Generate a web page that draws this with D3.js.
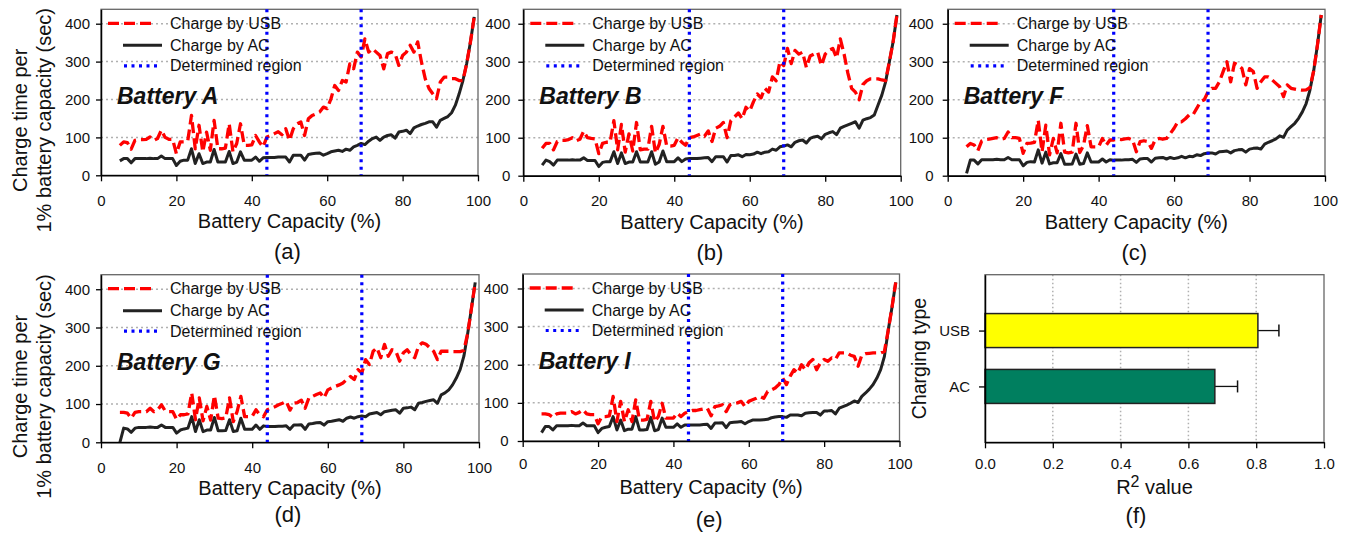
<!DOCTYPE html>
<html lang="en">
<head>
<meta charset="UTF-8">
<title>Charge time per 1% battery capacity</title>
<script src="https://d3js.org/d3.v7.min.js"></script>
<style>
  body { margin: 0; background: #fff; }
</style>
</head>
<body>
<svg id="chart" width="1359" height="533"></svg>
<script>
// battery capacity (%) at which each sample was taken
const capacity = [
  5, 6, 7, 8, 9, 10, 11, 12, 13, 14, 15, 16, 17, 18, 19,
  20, 21, 22, 23, 24, 25, 26, 27, 28, 29, 30, 31, 32, 33, 34,
  35, 36, 37, 38, 39, 40, 41, 42, 43, 44, 45, 46, 47, 48, 49,
  50, 51, 52, 53, 54, 55, 56, 57, 58, 59, 60, 61, 62, 63, 64,
  65, 66, 67, 68, 69, 70, 71, 72, 73, 74, 75, 76, 77, 78, 79,
  80, 81, 82, 83, 84, 85, 86, 87, 88, 89, 90, 91, 92, 93, 94,
  95, 96, 97, 98, 99
];

// charge time per 1% (sec)
const usbA = [79, 88, 86, 69, 92, 94, 94, 95, 101, 92, 97, 119, 100, 95, 95,
  57, 88, 88, 90, 158, 70, 132, 62, 114, 66, 145, 70, 70, 72, 136,
  62, 84, 136, 79, 79, 80, 105, 88, 75, 101, 105, 110, 115, 107, 123,
  92, 123, 136, 141, 105, 149, 158, 162, 167, 180, 176, 202, 237, 224, 250,
  246, 294, 281, 325, 312, 360, 325, 334, 325, 316, 281, 321, 325, 321, 290,
  316, 325, 343, 325, 352, 299, 255, 229, 215, 202, 246, 259, 259, 255, 255,
  250, 250, 295, 352, 418];
const acA = [38, 44, 44, 33, 44, 44, 44, 44, 45, 44, 44, 51, 44, 44, 44,
  26, 37, 40, 40, 70, 31, 57, 31, 35, 35, 68, 35, 35, 35, 63,
  31, 35, 62, 40, 40, 40, 48, 37, 46, 47, 47, 47, 48, 48, 48,
  35, 53, 53, 53, 40, 55, 57, 58, 59, 53, 57, 62, 64, 66, 63,
  69, 66, 75, 79, 84, 81, 90, 97, 101, 92, 101, 105, 107, 98, 114,
  116, 119, 110, 125, 130, 134, 137, 141, 141, 127, 145, 150, 155, 165, 185,
  215, 250, 295, 352, 418];

const usbB = [72, 85, 85, 68, 90, 93, 93, 95, 100, 92, 96, 117, 100, 98, 97,
  58, 85, 88, 88, 145, 68, 135, 62, 110, 65, 140, 68, 70, 70, 130,
  60, 82, 130, 78, 78, 80, 100, 88, 80, 100, 102, 106, 110, 104, 118,
  90, 125, 130, 140, 100, 145, 155, 165, 150, 180, 170, 195, 215, 205, 230,
  220, 260, 250, 300, 290, 335, 295, 330, 320, 325, 285, 315, 320, 325, 290,
  320, 330, 335, 310, 360, 320, 270, 230, 220, 200, 240, 250, 255, 255, 255,
  252, 250, 300, 353, 423];
const acB = [28, 41, 37, 28, 41, 41, 41, 41, 42, 41, 41, 47, 40, 40, 40,
  24, 35, 37, 37, 63, 32, 60, 32, 36, 36, 63, 36, 36, 36, 63,
  30, 36, 65, 37, 37, 37, 47, 37, 44, 45, 45, 45, 46, 47, 48,
  37, 50, 50, 50, 36, 53, 53, 55, 50, 56, 55, 57, 62, 58, 62,
  63, 70, 67, 76, 78, 81, 76, 88, 92, 94, 86, 98, 102, 104, 97,
  109, 113, 116, 108, 125, 130, 134, 138, 142, 125, 146, 150, 153, 160, 186,
  212, 247, 300, 353, 423];

const usbF = [76, 85, 81, 66, 91, 95, 96, 98, 100, 96, 98, 115, 100, 100, 98,
  59, 85, 86, 88, 146, 63, 133, 55, 98, 60, 138, 62, 60, 62, 138,
  61, 80, 132, 76, 76, 76, 98, 80, 94, 94, 96, 95, 97, 98, 94,
  63, 90, 92, 90, 72, 95, 98, 96, 98, 111, 125, 142, 142, 150, 160,
  160, 177, 195, 200, 221, 230, 230, 247, 274, 300, 247, 296, 291, 282, 239,
  282, 274, 230, 247, 260, 260, 252, 243, 234, 208, 239, 230, 228, 226, 225,
  226, 232, 276, 344, 423];
const acF = [6, 41, 41, 31, 42, 42, 42, 42, 43, 42, 42, 48, 42, 42, 42,
  26, 35, 37, 36, 68, 33, 62, 31, 34, 34, 58, 30, 30, 31, 57,
  30, 32, 60, 36, 36, 36, 44, 36, 42, 41, 41, 41, 42, 42, 43,
  35, 44, 45, 45, 36, 46, 47, 48, 44, 48, 45, 47, 51, 47, 51,
  50, 55, 53, 58, 60, 60, 57, 63, 64, 65, 60, 66, 68, 69, 62,
  70, 72, 73, 70, 83, 88, 92, 97, 105, 101, 120, 129, 138, 151, 168,
  190, 225, 276, 344, 423];

const usbG = [78, 78, 76, 63, 78, 80, 80, 80, 89, 80, 85, 98, 82, 80, 80,
  60, 72, 72, 74, 129, 59, 116, 56, 94, 58, 122, 63, 62, 64, 116,
  54, 80, 120, 67, 67, 68, 85, 72, 67, 85, 89, 93, 98, 102, 107,
  84, 102, 104, 110, 89, 116, 120, 125, 129, 116, 137, 142, 146, 150, 155,
  164, 172, 164, 190, 181, 216, 203, 238, 247, 221, 256, 225, 242, 238, 212,
  234, 242, 229, 221, 251, 260, 256, 247, 238, 216, 238, 238, 238, 237, 237,
  237, 240, 284, 350, 418];
const acG = [0, 37, 35, 26, 37, 39, 39, 39, 40, 39, 39, 45, 39, 39, 39,
  24, 32, 35, 37, 67, 28, 59, 28, 32, 32, 65, 30, 30, 31, 59,
  28, 30, 63, 34, 34, 34, 45, 34, 43, 41, 41, 41, 42, 42, 43,
  34, 45, 45, 46, 34, 48, 49, 51, 52, 45, 54, 55, 57, 59, 55,
  63, 66, 63, 67, 69, 67, 74, 76, 78, 72, 80, 82, 84, 85, 76,
  89, 90, 92, 85, 102, 104, 107, 109, 111, 102, 124, 129, 137, 150, 168,
  190, 225, 284, 350, 418];

const usbI = [71, 71, 69, 62, 71, 73, 73, 73, 77, 71, 75, 82, 71, 69, 69,
  45, 64, 64, 66, 117, 51, 104, 51, 82, 51, 108, 55, 55, 57, 104,
  51, 64, 99, 60, 60, 60, 73, 64, 73, 77, 80, 80, 82, 84, 86,
  66, 90, 92, 95, 77, 95, 98, 100, 104, 90, 104, 108, 112, 117, 112,
  130, 134, 139, 148, 165, 148, 170, 187, 178, 200, 187, 205, 214, 187, 205,
  214, 209, 218, 214, 231, 231, 231, 225, 222, 196, 225, 229, 230, 231, 231,
  231, 235, 290, 350, 416];
const acI = [22, 38, 38, 29, 40, 40, 40, 40, 41, 40, 40, 47, 40, 40, 40,
  22, 33, 36, 38, 64, 29, 55, 27, 31, 31, 64, 29, 29, 30, 62,
  27, 30, 60, 36, 36, 36, 45, 36, 42, 42, 42, 42, 42, 43, 44,
  33, 47, 47, 48, 35, 48, 49, 50, 51, 45, 51, 55, 55, 55, 56,
  57, 61, 63, 64, 64, 62, 68, 68, 68, 66, 73, 74, 75, 75, 68,
  79, 79, 80, 71, 86, 90, 94, 99, 105, 101, 117, 126, 136, 148, 165,
  187, 222, 290, 350, 416];

const batteryNames = ["Battery A", "Battery B", "Battery F", "Battery G", "Battery I"];
const captions = ["(a)", "(b)", "(c)", "(d)", "(e)", "(f)"];
const legendLabels = ["Charge by USB", "Charge by AC", "Determined region"];
const regionBounds = [44, 69];
const xTicks = [0, 20, 40, 60, 80, 100];
const yTicks = [0, 100, 200, 300, 400];

// panel (f)
const chargeTypes = ["USB", "AC"];
const r2Values = [0.805, 0.678];
const r2Errors = [0.062, 0.067];
const r2Ticks = [0, 0.2, 0.4, 0.6, 0.8, 1.0];

const usbSeries = [usbA, usbB, usbF, usbG, usbI];
const acSeries = [acA, acB, acF, acG, acI];

const font = "'Liberation Sans', Arial, sans-serif";
const svg = d3.select("#chart").attr("font-family", font);

// layout of the five line panels
const panels = [
  { left: 101, top: 9.3, right: 478, bottom: 175.3, xPad: 14, yPad: 6, capDy: 83.4, yTitle: true },
  { left: 523.3, top: 9.3, right: 900.7, bottom: 175.7, xPad: 14, yPad: 8, capDy: 84, yTitle: false },
  { left: 947.7, top: 9.3, right: 1325, bottom: 175.7, xPad: 14, yPad: 9, capDy: 84, yTitle: false },
  { left: 101, top: 274.7, right: 479, bottom: 442.3, xPad: 14, yPad: 6, capDy: 80, yTitle: true },
  { left: 522.7, top: 274, right: 899.5, bottom: 441, xPad: 11, yPad: 9, capDy: 86, yTitle: false }
];

function styleAxis(sel) {
  sel.attr("font-family", font).attr("font-size", 15);
  sel.select(".domain").attr("stroke", "#000").attr("stroke-width", 1.5);
  sel.selectAll(".tick line").attr("stroke", "#000").attr("stroke-width", 1.3);
  sel.selectAll(".tick text").attr("fill", "#111");
}

const usbStyle = s => s.attr("fill", "none").attr("stroke", "#ff0000")
  .attr("stroke-width", 3.3).attr("stroke-dasharray", "11,5").attr("stroke-linejoin", "round");
const acStyle = s => s.attr("fill", "none").attr("stroke", "#222")
  .attr("stroke-width", 3).attr("stroke-linejoin", "round");
const regionStyle = s => s.attr("stroke", "#0000ff").attr("stroke-width", 3.2)
  .attr("stroke-dasharray", "3,4.5");

panels.forEach((p, k) => {
  const g = svg.append("g");
  const x = d3.scaleLinear().domain([0, 100]).range([p.left, p.right]);
  const y = d3.scaleLinear().domain([0, 438]).range([p.bottom, p.top]);

  g.selectAll("line.grid")
    .data(yTicks.filter(v => v > 0))
    .join("line")
    .attr("class", "grid")
    .attr("x1", p.left).attr("x2", p.right)
    .attr("y1", d => y(d)).attr("y2", d => y(d))
    .attr("stroke", "#b0b0b0").attr("stroke-width", 1.5)
    .attr("stroke-dasharray", "2,3");

  g.append("rect")
    .attr("x", p.left).attr("y", p.top)
    .attr("width", p.right - p.left).attr("height", p.bottom - p.top)
    .attr("fill", "none").attr("stroke", "#666").attr("stroke-width", 1.3);

  const line = d3.line().x((d, i) => x(capacity[i])).y(d => y(d));

  g.append("path").datum(acSeries[k]).attr("d", line).call(acStyle);
  g.append("path").datum(usbSeries[k]).attr("d", line).call(usbStyle);

  g.selectAll("line.region")
    .data(regionBounds)
    .join("line")
    .attr("class", "region")
    .attr("x1", d => x(d)).attr("x2", d => x(d))
    .attr("y1", p.top).attr("y2", p.bottom)
    .call(regionStyle);

  g.append("g")
    .attr("transform", "translate(0," + p.bottom + ")")
    .call(d3.axisBottom(x).tickValues(xTicks).tickSize(6).tickSizeOuter(0).tickPadding(p.xPad))
    .call(styleAxis);

  g.append("g")
    .attr("transform", "translate(" + p.left + ",0)")
    .call(d3.axisLeft(y).tickValues(yTicks).tickSize(5).tickSizeOuter(0).tickPadding(p.yPad))
    .call(styleAxis);

  // legend
  const legend = g.append("g").attr("transform", "translate(" + p.left + "," + p.top + ")");
  const rows = [
    { y: 14, x1: 7, x2: 52, style: usbStyle },
    { y: 36, x1: 22, x2: 61, style: acStyle },
    { y: 56.5, x1: 23, x2: 56, style: regionStyle }
  ];
  rows.forEach((r, i) => {
    legend.append("line")
      .attr("x1", r.x1).attr("x2", r.x2).attr("y1", r.y).attr("y2", r.y)
      .call(r.style);
    legend.append("text")
      .attr("x", 69).attr("y", r.y).attr("dy", "0.35em")
      .attr("font-size", 16).attr("fill", "#111")
      .text(legendLabels[i]);
  });

  g.append("text")
    .attr("x", p.left + 16).attr("y", p.top + 95)
    .attr("font-size", 23).attr("font-weight", "bold").attr("font-style", "italic")
    .attr("fill", "#111")
    .text(batteryNames[k]);

  const cx = (p.left + p.right) / 2;
  g.append("text")
    .attr("x", cx).attr("y", p.bottom + 53)
    .attr("text-anchor", "middle").attr("font-size", 20).attr("fill", "#111")
    .text("Battery Capacity (%)");

  g.append("text")
    .attr("x", cx - 2).attr("y", p.bottom + p.capDy)
    .attr("text-anchor", "middle").attr("font-size", 22).attr("fill", "#111")
    .text(captions[k]);

  if (p.yTitle) {
    const cy = (p.top + p.bottom) / 2 + 28;
    g.append("text")
      .attr("transform", "translate(27," + cy + ") rotate(-90)")
      .attr("text-anchor", "middle").attr("font-size", 20).attr("fill", "#111")
      .text("Charge time per");
    g.append("text")
      .attr("transform", "translate(51," + cy + ") rotate(-90)")
      .attr("text-anchor", "middle").attr("font-size", 20).attr("fill", "#111")
      .text("1% battery capacity (sec)");
  }
});

// panel (f): R^2 bar chart
(function () {
  const p = { left: 985, top: 274.7, right: 1324, bottom: 442.3 };
  const g = svg.append("g");
  const x = d3.scaleLinear().domain([0, 1]).range([p.left, p.right]);
  const y = d3.scalePoint().domain(chargeTypes).range([p.top, p.bottom]).padding(1);
  const barH = 34;

  g.selectAll("line.grid")
    .data(r2Ticks.filter(v => v > 0 && v < 1))
    .join("line")
    .attr("class", "grid")
    .attr("x1", d => x(d)).attr("x2", d => x(d))
    .attr("y1", p.top).attr("y2", p.bottom)
    .attr("stroke", "#b0b0b0").attr("stroke-width", 1.5)
    .attr("stroke-dasharray", "1.5,2.5");

  g.append("rect")
    .attr("x", p.left).attr("y", p.top)
    .attr("width", p.right - p.left).attr("height", p.bottom - p.top)
    .attr("fill", "none").attr("stroke", "#666").attr("stroke-width", 1.3);

  const data = chargeTypes.map((c, i) => ({ type: c, value: r2Values[i], err: r2Errors[i] }));
  const colors = { USB: "#ffff00", AC: "#007f5f" };

  g.selectAll("line.err")
    .data(data)
    .join("line")
    .attr("class", "err")
    .attr("x1", d => x(d.value)).attr("x2", d => x(d.value + d.err))
    .attr("y1", d => y(d.type)).attr("y2", d => y(d.type))
    .attr("stroke", "#111").attr("stroke-width", 1.3);

  g.selectAll("line.cap")
    .data(data)
    .join("line")
    .attr("class", "cap")
    .attr("x1", d => x(d.value + d.err)).attr("x2", d => x(d.value + d.err))
    .attr("y1", d => y(d.type) - 6).attr("y2", d => y(d.type) + 6)
    .attr("stroke", "#111").attr("stroke-width", 1.5);

  g.selectAll("rect.bar")
    .data(data)
    .join("rect")
    .attr("class", "bar")
    .attr("x", x(0)).attr("y", d => y(d.type) - barH / 2)
    .attr("width", d => x(d.value) - x(0)).attr("height", barH)
    .attr("fill", d => colors[d.type])
    .attr("stroke", "#222").attr("stroke-width", 1.5);

  g.append("g")
    .attr("transform", "translate(0," + p.bottom + ")")
    .call(d3.axisBottom(x).tickValues(r2Ticks).tickFormat(d3.format(".1f"))
      .tickSize(6).tickSizeOuter(0).tickPadding(10))
    .call(styleAxis);

  g.append("g")
    .attr("transform", "translate(" + p.left + ",0)")
    .call(d3.axisLeft(y).tickSize(6).tickSizeOuter(0).tickPadding(9))
    .call(styleAxis);

  const title = g.append("text")
    .attr("x", (p.left + p.right) / 2).attr("y", p.bottom + 52)
    .attr("text-anchor", "middle").attr("font-size", 20).attr("fill", "#111");
  title.append("tspan").text("R");
  title.append("tspan").attr("font-size", 16).attr("dy", -7).text("2");
  title.append("tspan").attr("dy", 7).text(" value");

  g.append("text")
    .attr("x", 1136).attr("y", p.bottom + 81)
    .attr("text-anchor", "middle").attr("font-size", 22).attr("fill", "#111")
    .text(captions[5]);

  g.append("text")
    .attr("transform", "translate(926," + ((p.top + p.bottom) / 2) + ") rotate(-90)")
    .attr("text-anchor", "middle").attr("font-size", 19.5).attr("fill", "#111")
    .text("Charging type");
})();
</script>
</body>
</html>
